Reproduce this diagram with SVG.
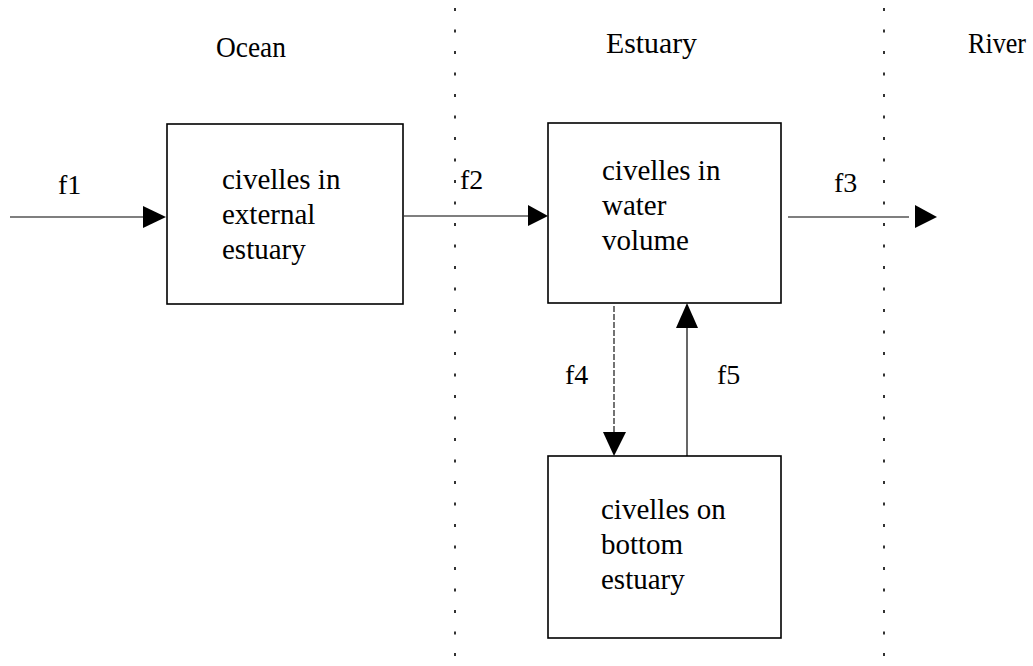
<svg xmlns="http://www.w3.org/2000/svg" width="1033" height="666" viewBox="0 0 1033 666">
<style>
.box{fill:#fff;stroke:#000;stroke-width:1.6}
.t{font-family:"Liberation Serif","Times New Roman",serif;font-size:29px;fill:#000}
.h{font-family:"Liberation Serif","Times New Roman",serif;font-size:30px;fill:#000}
.lbl{font-family:"Liberation Serif","Times New Roman",serif;font-size:28px;fill:#000}
.ln{stroke:#000;stroke-width:1.2;fill:none}
.dash{stroke:#000;stroke-width:1.1;fill:none;stroke-dasharray:6 2}
.dot{stroke:#000;stroke-width:1.6;fill:none;stroke-dasharray:3 18.5}
.ah{fill:#000}
</style>
<rect width="1033" height="666" fill="#fff"/>
<g id="zones">
<line class="dot" x1="455" y1="8" x2="455" y2="662"/>
<line class="dot" x1="884" y1="8" x2="884" y2="662"/>
<text class="h" x="216" y="57" textLength="70" lengthAdjust="spacingAndGlyphs">Ocean</text>
<text class="h" x="606" y="53" textLength="91" lengthAdjust="spacingAndGlyphs">Estuary</text>
<text class="h" x="968" y="53" textLength="58" lengthAdjust="spacingAndGlyphs">River</text>
</g>
<g id="connectors">
<line class="ln" x1="10" y1="217" x2="144" y2="217"/>
<polygon class="ah" points="143,206 166,217 143,228"/>
<text class="lbl" x="58" y="194">f1</text>
<line class="ln" x1="404" y1="216" x2="530" y2="216"/>
<polygon class="ah" points="528,205 548,216 528,226"/>
<text class="lbl" x="460" y="189">f2</text>
<line class="ln" x1="788" y1="217" x2="909" y2="217"/>
<polygon class="ah" points="915,205 937,217 915,228"/>
<text class="lbl" x="834" y="192">f3</text>
<line class="dash" x1="614" y1="306" x2="614" y2="434"/>
<polygon class="ah" points="603,432 626,432 614,456"/>
<text class="lbl" x="565" y="384">f4</text>
<line class="ln" x1="687" y1="456" x2="687" y2="326"/>
<polygon class="ah" points="676,328 698,328 687,303"/>
<text class="lbl" x="717" y="384">f5</text>
</g>
<g id="node-external">
<rect class="box" x="167" y="124" width="236" height="180"/>
<text class="t" x="222" y="189">civelles in</text>
<text class="t" x="222" y="224">external</text>
<text class="t" x="222" y="259">estuary</text>
</g>
<g id="node-water">
<rect class="box" x="548" y="123" width="233" height="180"/>
<text class="t" x="602" y="180">civelles in</text>
<text class="t" x="602" y="215">water</text>
<text class="t" x="602" y="250">volume</text>
</g>
<g id="node-bottom">
<rect class="box" x="548" y="456" width="233" height="182"/>
<text class="t" x="601" y="519">civelles on</text>
<text class="t" x="601" y="554">bottom</text>
<text class="t" x="601" y="589">estuary</text>
</g>
</svg>
